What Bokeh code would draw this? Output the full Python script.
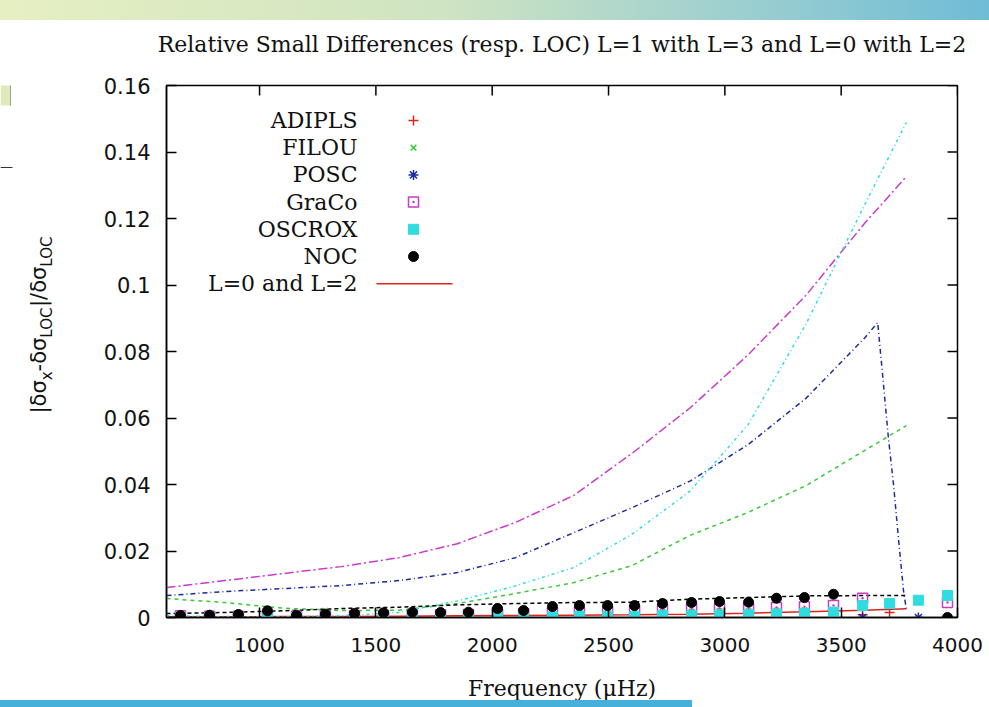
import math
from bokeh.plotting import figure
from bokeh.layouts import column, row
from bokeh.models import Range1d, FixedTicker, CustomJSTickFormatter, Label, Div, LinearAxis
from bokeh.core.properties import value
from bokeh.embed import file_html
from bokeh.resources import INLINE

nan = float("nan")

# ---------------- data ----------------
codes = ["ADIPLS", "FILOU", "POSC", "GraCo", "OSCROX", "NOC"]

# L=1 with L=3 : points
freq_l13 = [660, 785, 909, 1034, 1159, 1283, 1408, 1533, 1657, 1778, 1898, 2023, 2135, 2259,
            2375, 2496, 2612, 2732, 2857, 2977, 3102, 3222, 3342, 3467, 3592, 3708, 3832, 3957]
adipls_pts = [0.0002, 0.0001, 0.0002, 0.0002, 0.0001, 0.0002, 0.0002, 0.0003, 0.0002, 0.0003, 0.0003, 0.0002, 0.0003, 0.0004,
              0.0003, 0.0004, 0.0004, 0.0005, 0.0004, 0.0005, 0.0004, 0.0005, 0.0006, 0.0006, 0.0008, 0.0015, nan, nan]
filou_pts = [0.0004, 0.0006, 0.0005, 0.0007, 0.0006, 0.0020, 0.0009, 0.0010, 0.0010, 0.0011, 0.0011, 0.0012, 0.0013, 0.0014,
             0.0014, 0.0015, 0.0016, 0.0017, 0.0018, 0.0019, 0.0019, 0.0021, 0.0022, 0.0023, nan, nan, nan, nan]
posc_pts = [0.0001, 0.0002, 0.0001, 0.0003, 0.0000, 0.0002, 0.0003, 0.0002, 0.0003, 0.0002, 0.0003, 0.0003, 0.0004, 0.0004,
            0.0005, 0.0005, 0.0006, 0.0006, 0.0006, 0.0007, 0.0007, 0.0008, 0.0008, 0.0009, 0.0000, nan, 0.0000, nan]
graco_pts = [0.0005, 0.0004, 0.0004, 0.0005, 0.0004, 0.0005, 0.0006, 0.0006, 0.0007, 0.0008, 0.0009, 0.0010, 0.0012, 0.0014,
             0.0016, 0.0019, 0.0021, 0.0023, 0.0026, 0.0028, 0.0026, 0.0030, 0.0032, 0.0036, 0.0058, nan, nan, 0.0045]
oscrox_pts = [0.0000, 0.0000, 0.0000, 0.0000, 0.0000, 0.0000, 0.0000, 0.0000, 0.0000, 0.0000, 0.0001, 0.0001, 0.0001, 0.0002,
              0.0003, 0.0003, 0.0002, 0.0005, 0.0006, 0.0007, 0.0008, 0.0010, 0.0012, 0.0016, 0.0036, 0.0042, 0.0052, 0.0066]
noc_pts = [0.0006, 0.0007, 0.0009, 0.0020, 0.0006, 0.0010, 0.0012, 0.0014, 0.0016, 0.0015, 0.0016, 0.0027, 0.0021, 0.0033,
           0.0036, 0.0036, 0.0036, 0.0042, 0.0045, 0.0048, 0.0046, 0.0058, 0.0060, 0.0070, nan, nan, nan, 0.0000]

# L=0 with L=2 : lines
freq_l02 = [600, 850, 1100, 1350, 1600, 1850, 2100, 2350, 2600, 2850, 3100, 3350, 3600, 3780]
adipls_line = [0.0002, 0.0002, 0.0003, 0.0003, 0.0004, 0.0005, 0.0006, 0.0007, 0.0008, 0.0010, 0.0013, 0.0017, 0.0022, 0.0026]
filou_line = [0.0057, 0.0045, 0.0028, 0.0021, 0.0022, 0.0042, 0.0072, 0.0105, 0.0156, 0.0247, 0.0316, 0.0397, 0.0502, 0.0577]
graco_line = [0.0090, 0.0111, 0.0132, 0.0153, 0.0180, 0.0222, 0.0286, 0.0367, 0.0493, 0.0630, 0.0790, 0.0970, 0.1185, 0.1326]
oscrox_line = [0.0005, 0.0003, 0.0002, 0.0005, 0.0015, 0.0050, 0.0095, 0.0150, 0.0250, 0.0380, 0.0580, 0.0884, 0.1240, 0.1489]
noc_line = [0.0012, 0.0015, 0.0020, 0.0027, 0.0031, 0.0038, 0.0042, 0.0045, 0.0046, 0.0055, 0.0060, 0.0065, 0.0066, 0.0066]
posc_line_freq = [600, 850, 1100, 1350, 1600, 1850, 2100, 2350, 2600, 2850, 3100, 3350, 3600, 3657, 3682, 3703, 3725, 3746, 3768, 3781]
posc_line = [0.0066, 0.0078, 0.0087, 0.0096, 0.0111, 0.0135, 0.0180, 0.0255, 0.0330, 0.0410, 0.0520, 0.0660, 0.0840, 0.0887,
             0.0700, 0.0540, 0.0400, 0.0240, 0.0080, 0.0020]

x_ticks = [1000, 1500, 2000, 2500, 3000, 3500, 4000]
y_ticks = [0, 0.02, 0.04, 0.06, 0.08, 0.10, 0.12, 0.14, 0.16]

title_text = "Relative Small Differences (resp. LOC) L=1 with L=3 and L=0 with L=2"
xlabel_text = "Frequency (\u03bcHz)"
# y label: |δσ_x - δσ_LOC| / δσ_LOC  as (text, is_subscript) pieces
ylabel_pieces = [("|\u03b4\u03c3", False), ("x", True), ("-\u03b4\u03c3", False), ("LOC", True),
                 ("|/\u03b4\u03c3", False), ("LOC", True)]

# ---------------- styling ----------------
RED, GREEN, BLUE, MAGENTA, CYAN, BLACK = "#d8261c", "#3cc83c", "#1c2c9c", "#c83cc8", "#30dce0", "#000000"
SERIF = "DejaVu Serif"
SANS = "DejaVu Sans"
INK = "#111111"

PAGE_W, PAGE_H = 989, 707
TOP_BAND, BOTTOM_BAND = 20, 7
OVERLAP = 5                            # bottom band overlaps the (empty) lower border of the plots
FRAME_TOP, FRAME_BOTTOM = 85, 617      # page pixels of the plot box
LAB_W = 60                             # narrow strip holding the rotated y-axis title
W, H = PAGE_W - LAB_W, PAGE_H - TOP_BAND - BOTTOM_BAND + OVERLAP
BL, BR, BT = 166 - LAB_W, 32, FRAME_TOP - TOP_BAND
BB = H - (FRAME_BOTTOM - TOP_BAND)
FW = W - BL - BR
FH = H - BT - BB
X0, X1 = 600, 4000
Y0, Y1 = 0.0, 0.16

p = figure(width=W, height=H, output_backend="svg", toolbar_location=None,
           x_range=Range1d(X0, X1), y_range=Range1d(Y0, Y1),
           min_border_left=BL, min_border_right=BR, min_border_top=BT, min_border_bottom=BB,
           background_fill_color="white", border_fill_color=None)
p.outline_line_color = "black"
p.outline_line_width = 1.5
p.grid.visible = False

for ax in (p.xaxis[0], p.yaxis[0]):
    ax.axis_line_color = "black"
    ax.axis_line_width = 1.5
    ax.major_tick_in = 10
    ax.major_tick_out = 0
    ax.major_tick_line_width = 1.5
    ax.major_tick_line_color = "black"
    ax.minor_tick_line_color = None
    ax.major_label_text_font = SANS
    ax.major_label_text_color = INK
p.xaxis.major_label_text_font_size = "20px"
p.yaxis.major_label_text_font_size = "21px"

p.xaxis.ticker = FixedTicker(ticks=x_ticks)
p.yaxis.ticker = FixedTicker(ticks=y_ticks)
p.yaxis.formatter = CustomJSTickFormatter(code="return tick.toFixed(2).replace(/0+$/,'').replace(/\\.$/,'');")
p.xaxis.major_label_standoff = 20
p.yaxis.major_label_standoff = 16

p.xaxis.axis_label = xlabel_text
p.xaxis.axis_label_text_font = SERIF
p.xaxis.axis_label_text_font_size = "22px"
p.xaxis.axis_label_text_font_style = "normal"
p.xaxis.axis_label_text_color = INK
p.xaxis.axis_label_standoff = 21

# title carried as the label of a tick-less top axis (precise vertical placement)
title_axis = LinearAxis(ticker=FixedTicker(ticks=[]), axis_line_color=None,
                        major_tick_in=0, major_tick_out=0, minor_tick_in=0, minor_tick_out=0,
                        major_label_standoff=0, axis_label=title_text,
                        axis_label_text_font=SERIF, axis_label_text_font_size="22px",
                        axis_label_text_font_style="normal", axis_label_text_color=INK,
                        axis_label_standoff=29)
p.add_layout(title_axis, "above")

# mirrored inward ticks on top and right edges (gnuplot style)
tick_dy = 10 / FH * (Y1 - Y0)
tick_dx = 10 / FW * (X1 - X0)
p.segment(x0=x_ticks, y0=[Y1] * len(x_ticks), x1=x_ticks, y1=[Y1 - tick_dy] * len(x_ticks),
          line_color="black", line_width=1.5)
p.segment(x0=[X1] * len(y_ticks), y0=y_ticks, x1=[X1 - tick_dx] * len(y_ticks), y1=y_ticks,
          line_color="black", line_width=1.5)

# ---------------- lines (L=0 with L=2) ----------------
p.line(freq_l02, adipls_line, line_color=RED, line_width=1.5)
p.line(freq_l02, filou_line, line_color=GREEN, line_width=1.5, line_dash="4 4")
p.line(posc_line_freq, posc_line, line_color=BLUE, line_width=1.5, line_dash="5 3 1 3")
p.line(freq_l02, graco_line, line_color=MAGENTA, line_width=1.5, line_dash="9 3 2 3")
p.line(freq_l02, oscrox_line, line_color=CYAN, line_width=1.5, line_dash="3 3 1 3")
p.line(freq_l02, noc_line, line_color=BLACK, line_width=1.5, line_dash="4 3")

# ---------------- points (L=1 with L=3) ----------------
styles = [
    dict(marker="cross", size=10, line_color=RED, fill_color=None, line_width=1.5),
    dict(marker="x", size=8, line_color=GREEN, fill_color=None, line_width=1.5),
    dict(marker="asterisk", size=10, line_color=BLUE, fill_color=None, line_width=1.5),
    dict(marker="square_dot", size=10, line_color=MAGENTA, fill_color=None, line_width=1.5),
    dict(marker="square", size=10, line_color=CYAN, fill_color=CYAN, line_width=1),
    dict(marker="circle", size=10, line_color=BLACK, fill_color=BLACK, line_width=1),
]
series = [adipls_pts, filou_pts, posc_pts, graco_pts, oscrox_pts, noc_pts]
for vals, st in zip(series, styles):
    p.scatter(freq_l13, vals, **st)

# ---------------- legend (gnuplot style: text then sample) ----------------
def fx_to_data(fx):
    return X0 + fx / FW * (X1 - X0)

def fy_to_data(fy):
    return Y1 - fy / FH * (Y1 - Y0)

leg_top = 35
leg_step = 27.2
text_right = 191
sample_x = 247
labels = codes + ["L=0 and L=2"]
for i, lab_text in enumerate(labels):
    fy = leg_top + i * leg_step
    p.add_layout(Label(x=text_right, y=FH - fy, x_units="screen", y_units="screen", text=lab_text,
                       text_align="right", text_baseline="middle", text_font=SERIF,
                       text_font_size="22px", text_color=INK))
    if i < len(styles):
        p.scatter([fx_to_data(sample_x)], [fy_to_data(fy)], **styles[i])
    else:
        p.line([fx_to_data(210), fx_to_data(286)], [fy_to_data(fy), fy_to_data(fy)], line_color=RED, line_width=1.5)

# ---------------- left strip: rotated y-axis title (page pixel coordinates) ----------------
lab = figure(width=LAB_W, height=H, output_backend="svg", toolbar_location=None,
             x_range=Range1d(0, LAB_W), y_range=Range1d(FRAME_BOTTOM, FRAME_TOP),
             min_border_left=0, min_border_right=0, min_border_top=BT, min_border_bottom=BB,
             background_fill_color="white", border_fill_color=None)
lab.axis.visible = False
lab.grid.visible = False
lab.outline_line_color = None
# slide decoration remnants on the far left
lab.quad(left=[0], right=[10], top=[TOP_BAND], bottom=[105], fill_color="#dfe9b9", line_color=None)
lab.segment(x0=[10], y0=[TOP_BAND], x1=[10], y1=[105], line_color="#9a9a9a", line_width=1)
lab.segment(x0=[0], y0=[167], x1=[12], y1=[167], line_color="#333333", line_width=1)

adv = {"|": .337, "\u03b4": .612, "\u03c3": .634, "-": .361, "/": .337, "x": .592, "L": .557, "O": .787, "C": .698}
ypos = 413
for txt, sub in ylabel_pieces:
    fs = 15 if sub else 21
    lab.text(x=[46 if sub else 38], y=[ypos], text=[txt], angle=math.pi / 2,
             text_align="left", text_baseline="middle", text_font=value(SANS),
             text_font_size=f"{fs}px", text_color=INK)
    ypos -= sum(adv[c] for c in txt) * fs

top = Div(text="", width=PAGE_W, height=TOP_BAND, margin=0,
          styles={"background": "linear-gradient(90deg, #e6efc2 0%, #cfe4c2 45%, #9ccfd0 75%, #6fbcd6 100%)"})
bottom = Div(text="", width=PAGE_W, height=BOTTOM_BAND, margin=(-OVERLAP, 0, 0, 0),
             styles={"background": "linear-gradient(90deg, #46b0da 0%, #46b0da 70%, rgba(255,255,255,0) 70%, rgba(255,255,255,0) 100%)",
                     "position": "relative", "z-index": "5"})
page = column(top, row(lab, p, spacing=0), bottom, spacing=0)

open("out.html", "w").write(file_html(page, INLINE))
